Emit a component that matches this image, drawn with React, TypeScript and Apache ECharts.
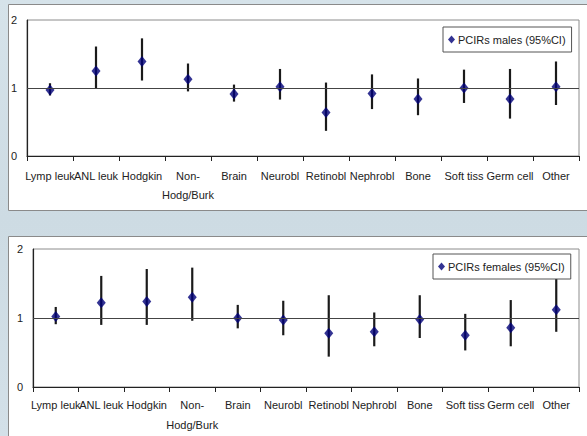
import React, { useEffect, useRef } from "react";
import * as echarts from "echarts";

const categories = [
  "Lymp leuk",
  "ANL leuk",
  "Hodgkin",
  "Non-\nHodg/Burk",
  "Brain",
  "Neurobl",
  "Retinobl",
  "Nephrobl",
  "Bone",
  "Soft tiss",
  "Germ cell",
  "Other",
];

const malesName = "PCIRs males (95%CI)";
const malesEst = [0.97, 1.25, 1.39, 1.13, 0.91, 1.02, 0.64, 0.92, 0.84, 1.0, 0.84, 1.02];
const malesLow = [0.89, 0.99, 1.11, 0.95, 0.8, 0.83, 0.37, 0.69, 0.6, 0.78, 0.55, 0.75];
const malesHigh = [1.07, 1.61, 1.73, 1.36, 1.05, 1.28, 1.08, 1.2, 1.14, 1.27, 1.28, 1.39];

const femalesName = "PCIRs females (95%CI)";
const femalesEst = [1.02, 1.22, 1.24, 1.3, 1.0, 0.97, 0.78, 0.8, 0.98, 0.75, 0.86, 1.12];
const femalesLow = [0.91, 0.9, 0.9, 0.96, 0.85, 0.75, 0.44, 0.59, 0.71, 0.53, 0.59, 0.8];
const femalesHigh = [1.16, 1.61, 1.71, 1.73, 1.19, 1.25, 1.33, 1.08, 1.33, 1.06, 1.26, 1.6];

const yTicks = [0, 1, 2];

const FONT = "'Liberation Sans Narrow', 'Arial Narrow', 'Liberation Sans', Arial, sans-serif";
const MARKER = "#000078";

export default function App() {
  const ref = useRef<HTMLDivElement>(null);

  useEffect(() => {
    if (!ref.current) return;
    const chart = echarts.init(ref.current, null, { renderer: "svg" });

    const errRender = (params: any, api: any) => {
      const x = api.value(0);
      const lo = api.coord([x, api.value(1)]);
      const hi = api.coord([x, api.value(2)]);
      return {
        type: "line",
        shape: { x1: lo[0], y1: lo[1], x2: hi[0], y2: hi[1] },
        style: { stroke: "#1a1a1a", lineWidth: 2.2 },
      };
    };

    const xAxisBase = (gridIndex: number, margin: number, lineHeight: number) => ({
      type: "category",
      gridIndex,
      data: categories,
      boundaryGap: true,
      axisLine: { show: true, lineStyle: { color: "#222", width: 1.2 } },
      axisTick: { show: true, length: 5, lineStyle: { color: "#222" } },
      axisLabel: {
        interval: 0,
        margin,
        fontSize: 11,
        lineHeight,
        color: "#222",
        fontFamily: FONT,
      },
      splitLine: { show: false },
    });

    const yAxisBase = (gridIndex: number) => ({
      type: "value",
      gridIndex,
      min: yTicks[0],
      max: yTicks[yTicks.length - 1],
      interval: 1,
      axisLine: { show: true, lineStyle: { color: "#222", width: 1.2 } },
      axisTick: { show: false },
      axisLabel: { margin: 10, fontSize: 11, color: "#222", fontFamily: FONT },
      splitLine: { show: false },
    });

    const legendBase = (name: string, left: number, top: number) => ({
      data: [name],
      left,
      top,
      orient: "horizontal",
      icon: "diamond",
      itemWidth: 7,
      itemHeight: 8,
      itemGap: 4,
      padding: [7, 6, 7, 5],
      borderColor: "#555",
      borderWidth: 1,
      backgroundColor: "#fff",
      textStyle: { fontSize: 11, color: "#222", fontFamily: FONT, padding: [0, 0, 0, -2] },
    });

    const markLine = {
      silent: true,
      symbol: "none",
      data: [{ yAxis: 1 }],
      label: { show: false },
      lineStyle: { color: "#444", width: 1.2, type: "solid" },
    };

    chart.setOption({
      animation: false,
      textStyle: { fontFamily: FONT },
      graphic: [
        {
          type: "rect",
          shape: { x: 8.5, y: 4.5, width: 600, height: 206 },
          style: { fill: "#fff", stroke: "#8a8a8a", lineWidth: 1 },
          z: -10,
        },
        {
          type: "rect",
          shape: { x: 8.5, y: 236.5, width: 600, height: 220 },
          style: { fill: "#fff", stroke: "#8a8a8a", lineWidth: 1 },
          z: -10,
        },
      ],
      grid: [
        { left: 27, top: 20, right: 8, height: 136, show: true, borderColor: "#8c8c8c", borderWidth: 1, backgroundColor: "transparent" },
        { left: 33, top: 249, right: 8, height: 138, show: true, borderColor: "#8c8c8c", borderWidth: 1, backgroundColor: "transparent" },
      ],
      xAxis: [xAxisBase(0, 10, 19), xAxisBase(1, 8, 20)],
      yAxis: [yAxisBase(0), yAxisBase(1)],
      legend: [legendBase(malesName, 443, 27), legendBase(femalesName, 433, 254)],
      series: [
        {
          type: "custom",
          name: "malesCI",
          xAxisIndex: 0,
          yAxisIndex: 0,
          renderItem: errRender,
          encode: { x: 0, y: [1, 2] },
          data: categories.map((_, i) => [i, malesLow[i], malesHigh[i]]),
          z: 3,
          silent: true,
        },
        {
          type: "scatter",
          name: malesName,
          xAxisIndex: 0,
          yAxisIndex: 0,
          symbol: "diamond",
          symbolSize: [9, 11],
          itemStyle: { color: MARKER },
          data: malesEst,
          z: 4,
          markLine,
        },
        {
          type: "custom",
          name: "femalesCI",
          xAxisIndex: 1,
          yAxisIndex: 1,
          renderItem: errRender,
          encode: { x: 0, y: [1, 2] },
          data: categories.map((_, i) => [i, femalesLow[i], femalesHigh[i]]),
          z: 3,
          silent: true,
        },
        {
          type: "scatter",
          name: femalesName,
          xAxisIndex: 1,
          yAxisIndex: 1,
          symbol: "diamond",
          symbolSize: [9, 11],
          itemStyle: { color: MARKER },
          data: femalesEst,
          z: 4,
          markLine,
        },
      ],
    });

    return () => chart.dispose();
  }, []);

  return (
    <div
      style={{
        position: "fixed",
        left: 0,
        top: 0,
        width: 587,
        height: 436,
        background: "linear-gradient(180deg, #d6e3ea 0%, #cddbe3 50%, #d3e0e8 100%)",
      }}
    >
      <div ref={ref} style={{ width: 587, height: 436 }} />
    </div>
  );
}
